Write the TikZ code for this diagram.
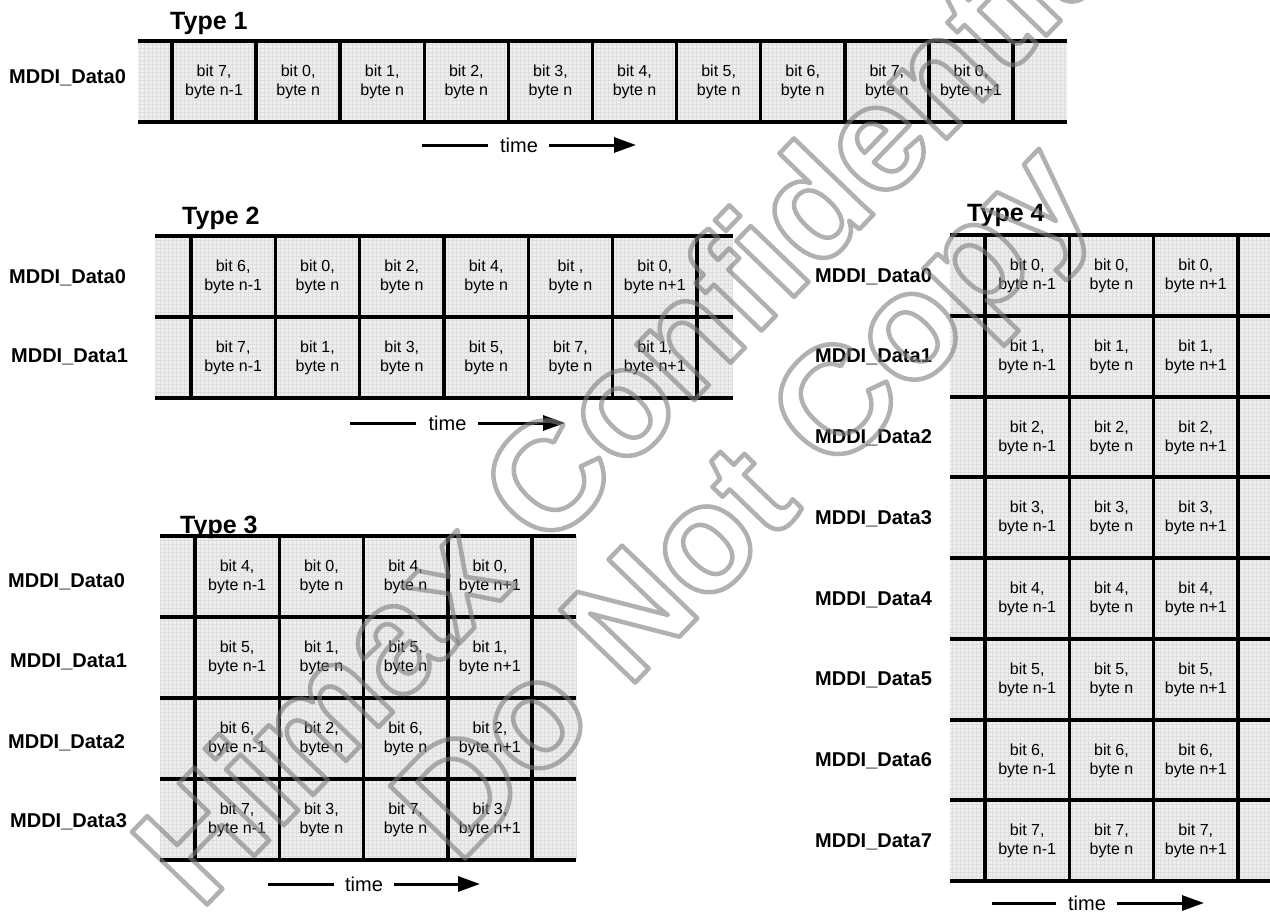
\documentclass[tikz,border=0pt]{standalone}
\usepackage{fontspec}
\setmainfont{Liberation Sans}
\usetikzlibrary{arrows.meta}
\definecolor{cellbg}{RGB}{238,238,238}
\definecolor{gridc}{RGB}{222,222,222}
\definecolor{wmgray}{RGB}{125,125,125}
\tikzset{
  bus/.style={line width=4pt, black},
  sep/.style={line width=3.5pt, black},
  gridline/.style={gridc, line width=0.6pt},
  cell/.style={font=\fontsize{16}{19}\selectfont, align=center, inner sep=0pt},
  lane/.style={font=\bfseries\fontsize{20}{24}\selectfont, anchor=base west, inner sep=0pt},
  ttl/.style={font=\bfseries\fontsize{25}{30}\selectfont, anchor=base west, inner sep=0pt},
  timelbl/.style={font=\fontsize{20}{24}\selectfont, inner sep=0pt},
  timeline/.style={line width=3pt},
  timearrow/.style={line width=3pt, -{Triangle[length=22pt,width=15pt]}},
  wm/.style={font=\bfseries\fontsize{152}{152}\selectfont, text=wmgray, inner sep=0pt, anchor=base west, rotate=46},
}
\newcommand{\outlinetext}[1]{\special{pdf:literal direct 1 Tr 4.5 w 1 j 0.49 0.49 0.49 RG}#1\special{pdf:literal direct 0 Tr}}
\begin{document}
\begin{tikzpicture}[x=1pt,y=-1pt]
\useasboundingbox (0,0) rectangle (1270,913);
\fill[white] (0,0) rectangle (1270,913);

% ---------- Type 1 ----------
\fill[cellbg] (138,41) rectangle (1067,122);
\draw[gridline] (138,122) grid[step=4pt] (1067,41);
\foreach \y in {41,122} \draw[bus] (138,\y) -- (1067,\y);
\foreach \i in {0,...,10} \draw[sep] ({172+84.1*\i},41) -- ({172+84.1*\i},122);
\foreach \t [count=\i from 0] in {{bit 7,\\byte n-1},{bit 0,\\byte n},{bit 1,\\byte n},{bit 2,\\byte n},{bit 3,\\byte n},{bit 4,\\byte n},{bit 5,\\byte n},{bit 6,\\byte n},{bit 7,\\byte n},{bit 0,\\byte n+1}}
  \node[cell] (ta\i) at ({214.05+84.1*\i},82) {\t};
\node[ttl] (title1) at (170,29) {Type 1};
\node[lane] (la0) at (9,83) {MDDI\_Data0};
\node[timelbl] (time1) at (519,145) {time};
\coordinate (t1a) at (422,145);
\coordinate (t1b) at (636,145);
\draw[timeline] (t1a) -- ([xshift=-12pt]time1.west);
\draw[timearrow] ([xshift=11pt]time1.east) -- (t1b);

% ---------- Type 2 ----------
\fill[cellbg] (155,236) rectangle (733,398);
\draw[gridline] (155,398) grid[step=4pt] (733,236);
\foreach \y in {236,317,398} \draw[bus] (155,\y) -- (733,\y);
\foreach \i in {0,...,6} \draw[sep] ({191+84.33*\i},236) -- ({191+84.33*\i},398);
\foreach \t [count=\i from 0] in {{bit 6,\\byte n-1},{bit 0,\\byte n},{bit 2,\\byte n},{bit 4,\\byte n},{bit ,\\byte n},{bit 0,\\byte n+1}}
  \node[cell] (tb0-\i) at ({233.17+84.33*\i},277) {\t};
\foreach \t [count=\i from 0] in {{bit 7,\\byte n-1},{bit 1,\\byte n},{bit 3,\\byte n},{bit 5,\\byte n},{bit 7,\\byte n},{bit 1,\\byte n+1}}
  \node[cell] (tb1-\i) at ({233.17+84.33*\i},358) {\t};
\node[ttl] (title2) at (182,224) {Type 2};
\node[lane] (lb0) at (9,283) {MDDI\_Data0};
\node[lane] (lb1) at (11,362) {MDDI\_Data1};
\node[timelbl] (time2) at (447.5,423) {time};
\coordinate (t2a) at (350,423);
\coordinate (t2b) at (565,423);
\draw[timeline] (t2a) -- ([xshift=-12pt]time2.west);
\draw[timearrow] ([xshift=11pt]time2.east) -- (t2b);

% ---------- Type 3 ----------
\fill[cellbg] (160,536) rectangle (576,860);
\draw[gridline] (160,860) grid[step=4pt] (576,536);
\foreach \r in {0,...,4} \draw[bus] (160,{536+81*\r}) -- (576,{536+81*\r});
\foreach \i in {0,...,4} \draw[sep] ({195+84.25*\i},536) -- ({195+84.25*\i},860);
\foreach \r in {0,...,3} {
  \pgfmathtruncatemacro\hb{\r+4}
  \node[cell] (tc\r-0) at (237.1,{577+81*\r}) {bit \hb,\\byte n-1};
  \node[cell] (tc\r-1) at (321.4,{577+81*\r}) {bit \r,\\byte n};
  \node[cell] (tc\r-2) at (405.6,{577+81*\r}) {bit \hb,\\byte n};
  \node[cell] (tc\r-3) at (489.9,{577+81*\r}) {bit \r,\\byte n+1};
}
\node[ttl] (title3) at (180,533) {Type 3};
\node[lane] (lc0) at (8,587) {MDDI\_Data0};
\node[lane] (lc1) at (10,667) {MDDI\_Data1};
\node[lane] (lc2) at (8,748) {MDDI\_Data2};
\node[lane] (lc3) at (10,827) {MDDI\_Data3};
\node[timelbl] (time3) at (364,884) {time};
\coordinate (t3a) at (268,884);
\coordinate (t3b) at (480,884);
\draw[timeline] (t3a) -- ([xshift=-11pt]time3.west);
\draw[timearrow] ([xshift=11pt]time3.east) -- (t3b);

% ---------- Type 4 ----------
\fill[cellbg] (950,235) rectangle (1270,881);
\draw[gridline] (950,881) grid[step=4pt] (1270,235);
\foreach \r in {0,...,8} \draw[bus] (950,{235+80.75*\r}) -- (1270,{235+80.75*\r});
\foreach \i in {0,...,3} \draw[sep] ({985+84.33*\i},235) -- ({985+84.33*\i},881);
\foreach \r in {0,...,7} {
  \node[cell] (td\r-0) at (1027.2,{276+80.75*\r}) {bit \r,\\byte n-1};
  \node[cell] (td\r-1) at (1111.5,{276+80.75*\r}) {bit \r,\\byte n};
  \node[cell] (td\r-2) at (1195.8,{276+80.75*\r}) {bit \r,\\byte n+1};
  \node[lane] (ld\r) at (815,{282+80.75*\r}) {MDDI\_Data\r};
}
\node[ttl] (title4) at (967,221) {Type 4};
\node[timelbl] (time4) at (1087,903) {time};
\coordinate (t4a) at (992,903);
\coordinate (t4b) at (1204,903);
\draw[timeline] (t4a) -- ([xshift=-12pt]time4.west);
\draw[timearrow] ([xshift=11pt]time4.east) -- (t4b);

% ---------- watermark ----------
\begin{scope}[opacity=0.6]
\node[wm] (wm1) at (200,912) {\outlinetext{Himax Confidential}};
\node[wm] (wm2) at (458,866) {\outlinetext{Do Not Copy}};
\end{scope}
\end{tikzpicture}
\end{document}
